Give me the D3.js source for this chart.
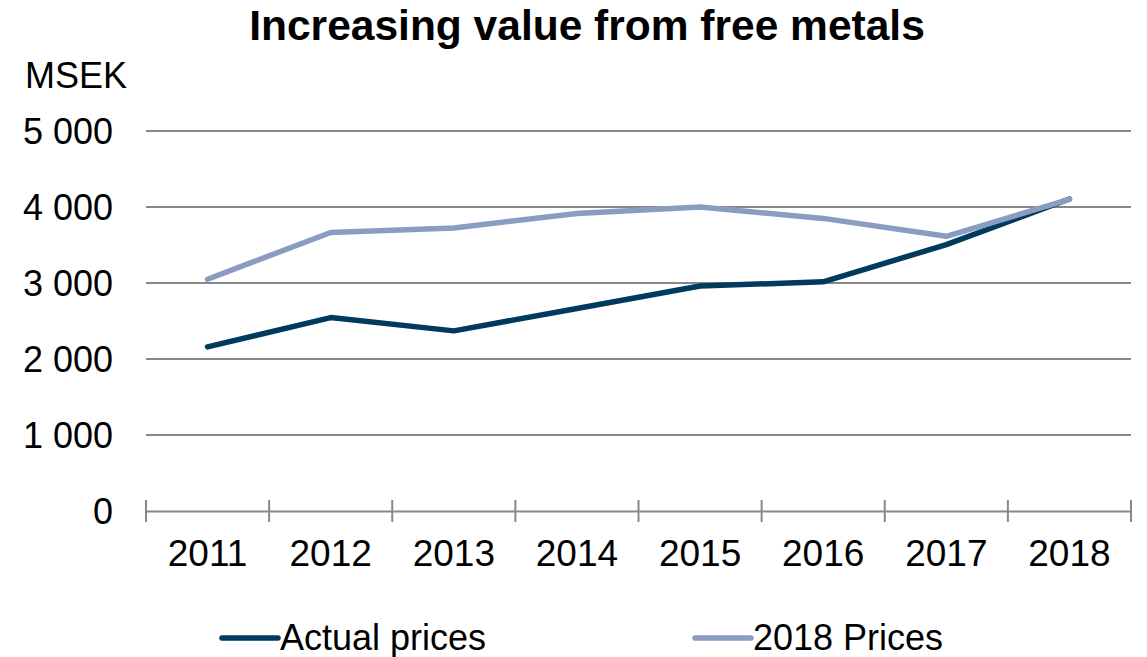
<!DOCTYPE html>
<html><head><meta charset="utf-8">
<script src="https://cdn.jsdelivr.net/npm/d3@7/dist/d3.min.js"></script>
<style>body{margin:0;background:#fff}svg{display:block;font-family:"Liberation Sans",Arial,sans-serif}</style>
</head><body><svg id="c" width="1147" height="657"></svg>
<script>
const years = ["2011","2012","2013","2014","2015","2016","2017","2018"];
const actualPrices = [2160, 2545, 2370, 2665, 2960, 3015, 3505, 4105];
const prices2018 = [3050, 3665, 3725, 3915, 4000, 3850, 3615, 4100];
const yTicks = [0, 1000, 2000, 3000, 4000, 5000];
const seriesNames = ["Actual prices", "2018 Prices"];
const colors = ["#003a5d", "#8a9cc2"];

const svg = d3.select("#c");
const x = d3.scaleBand().domain(years).range([146, 1131]);
const y = d3.scaleLinear().domain([0, 5000]).range([511, 131]);
const fmt = v => d3.format(",")(v).replace(/,/g, " ");

svg.append("g").selectAll("line").data(yTicks.filter(d => d > 0)).join("line")
  .attr("x1", 146).attr("x2", 1131).attr("y1", d => y(d)).attr("y2", d => y(d))
  .attr("stroke", "#888").attr("stroke-width", 2);

svg.append("g").selectAll("text").data(yTicks).join("text")
  .attr("x", 113).attr("y", d => y(d)).attr("dy", "0.36em").attr("text-anchor", "end")
  .attr("font-size", 36).attr("fill", "#000").text(fmt);

const xa = d3.axisBottom(x).tickSize(0).tickSizeOuter(0).tickPadding(29);
const gx = svg.append("g").attr("transform", "translate(0,511)").call(xa);
gx.select(".domain").attr("stroke", "#888").attr("stroke-width", 2);
gx.selectAll("text").attr("font-size", 37).attr("fill", "#000").attr("font-family", "Liberation Sans, Arial, sans-serif").attr("dy", "0.71em");
const bounds = years.map(d => x(d)).concat([x(years[years.length-1]) + x.bandwidth()]);
svg.append("g").selectAll("line").data(bounds).join("line")
  .attr("x1", d => d).attr("x2", d => d).attr("y1", 500).attr("y2", 522)
  .attr("stroke", "#888").attr("stroke-width", 2);

const line = d3.line().x((d, i) => x(years[i]) + x.bandwidth() / 2).y(d => y(d));
[actualPrices, prices2018].forEach((s, i) => {
  svg.append("path").datum(s).attr("d", line).attr("fill", "none")
    .attr("stroke", colors[i]).attr("stroke-width", 5.5)
    .attr("stroke-linecap", "round").attr("stroke-linejoin", "round");
});

svg.append("text").attr("x", 587).attr("y", 40).attr("text-anchor", "middle")
  .attr("font-size", 42.5).attr("font-weight", "bold").text("Increasing value from free metals");
svg.append("text").attr("x", 25).attr("y", 88).attr("font-size", 36).text("MSEK");

const legX = [222, 695];
seriesNames.forEach((n, i) => {
  svg.append("line").attr("x1", legX[i]).attr("x2", legX[i] + 56).attr("y1", 638).attr("y2", 638)
    .attr("stroke", colors[i]).attr("stroke-width", 5.5).attr("stroke-linecap", "round");
  svg.append("text").attr("x", legX[i] + 58).attr("y", 650).attr("font-size", 36).text(n);
});
</script></body></html>
